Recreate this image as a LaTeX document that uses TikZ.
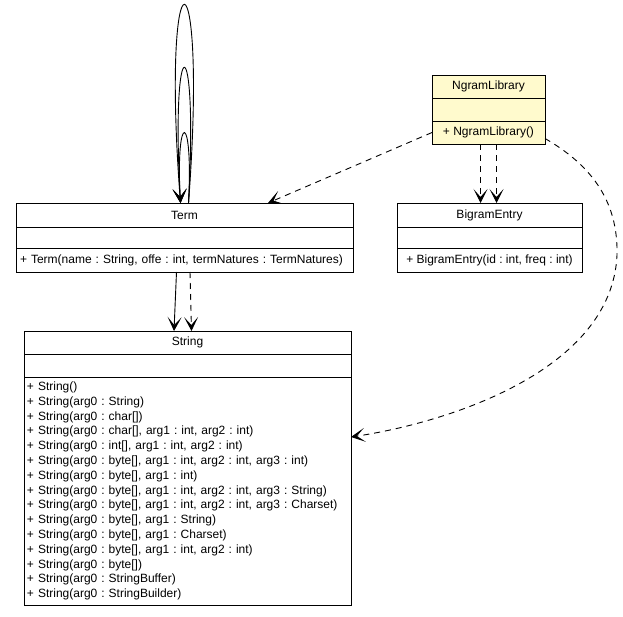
\documentclass[tikz,border=0pt]{standalone}
\usepackage{fontspec}
\setmainfont{Liberation Sans}
\usetikzlibrary{arrows.meta,positioning}
\definecolor{notecol}{RGB}{255,250,205}
\frenchspacing

\begin{document}
\begin{tikzpicture}[x=1pt,y=-1pt,line width=0.9pt,
	every node/.style={font=\fontsize{12}{14.8}\selectfont},
	part/.style={draw=black,inner sep=0pt,outer sep=0pt},
	dep/.style={dash pattern=on 6pt off 5pt,-{Stealth[length=14pt,width=14pt,inset=8pt]}},
	nav/.style={-{Stealth[length=14pt,width=14pt,inset=8pt]}}]
			\useasboundingbox (0,0) rectangle (623,616);
			% NgramLibrary
			\node[part,fill=notecol,minimum width=113pt,minimum height=23pt] (ngram) at (488.5,86.5) {NgramLibrary};
			\node[part,fill=notecol,minimum width=113pt,minimum height=23pt] (ngram-a) at (488.5,109.5) {};
			\node[part,fill=notecol,minimum width=113pt,minimum height=23pt] (ngram-m) at (488.5,132.5) {+ NgramLibrary()};
			% Term
			\node[part,minimum width=337pt,minimum height=24pt] (term) at (184.5,215) {Term};
			\node[part,minimum width=337pt,minimum height=21pt] (term-a) at (184.5,237.5) {};
			\node[part,minimum width=337pt,minimum height=24pt,inner xsep=4pt,text width=329pt,align=left] (term-m) at (184.5,260) {+ Term(name : String, offe : int, termNatures : TermNatures)};
			% BigramEntry
			\node[part,minimum width=185pt,minimum height=24pt] (bigram) at (489.5,215) {BigramEntry};
			\node[part,minimum width=185pt,minimum height=21pt] (bigram-a) at (489.5,237.5) {};
			\node[part,minimum width=185pt,minimum height=24pt] (bigram-m) at (489.5,260) {+ BigramEntry(id : int, freq : int)};
			% String
			\node[part,minimum width=327pt,minimum height=23pt] (string) at (187.5,342.5) {String};
			\node[part,minimum width=327pt,minimum height=23pt] (string-a) at (187.5,365.5) {};
			\node[part,minimum width=327pt,minimum height=228pt,inner xsep=3pt,text width=321pt,align=left] (string-m) at (187.5,491) {%
				+ String()\\
				+ String(arg0 : String)\\
				+ String(arg0 : char[])\\
				+ String(arg0 : char[], arg1 : int, arg2 : int)\\
				+ String(arg0 : int[], arg1 : int, arg2 : int)\\
				+ String(arg0 : byte[], arg1 : int, arg2 : int, arg3 : int)\\
				+ String(arg0 : byte[], arg1 : int)\\
				+ String(arg0 : byte[], arg1 : int, arg2 : int, arg3 : String)\\
				+ String(arg0 : byte[], arg1 : int, arg2 : int, arg3 : Charset)\\
				+ String(arg0 : byte[], arg1 : String)\\
				+ String(arg0 : byte[], arg1 : Charset)\\
				+ String(arg0 : byte[], arg1 : int, arg2 : int)\\
				+ String(arg0 : byte[])\\
				+ String(arg0 : StringBuffer)\\
				+ String(arg0 : StringBuilder)};
			
			% self loops on Term
			\draw[nav] ([xshift=4pt]term.north) .. controls +(5,-93) and +(-5,-93) .. ([xshift=-4pt]term.north);
			\draw[nav] ([xshift=4pt]term.north) .. controls +(10,-180) and +(-10,-180) .. ([xshift=-4pt]term.north);
			\draw[nav] ([xshift=4pt]term.north) .. controls +(20,-264) and +(-20,-264) .. ([xshift=-4pt]term.north);
			
			\path[dep](ngram-m.west) edge (term.north -| 268,0);
			\path[dep]([xshift=-8pt]ngram-m.south) edge ([xshift=-9pt]bigram.north);
			\path[dep]([xshift=8pt]ngram-m.south) edge ([xshift=7pt]bigram.north);
			\draw[dep]([yshift=-6pt]ngram-m.east) .. controls (600,170) and (618,210) .. (617,255)
				.. controls (612,370) and (450,422) .. ([yshift=54pt]string-m.east);
			\path[nav]([xshift=-8pt]term-m.south) edge ([xshift=-13.5pt]string.north);
			\path[dep]([xshift=5.5pt]term-m.south) edge ([xshift=4pt]string.north);
			\end{tikzpicture}
\end{document}
